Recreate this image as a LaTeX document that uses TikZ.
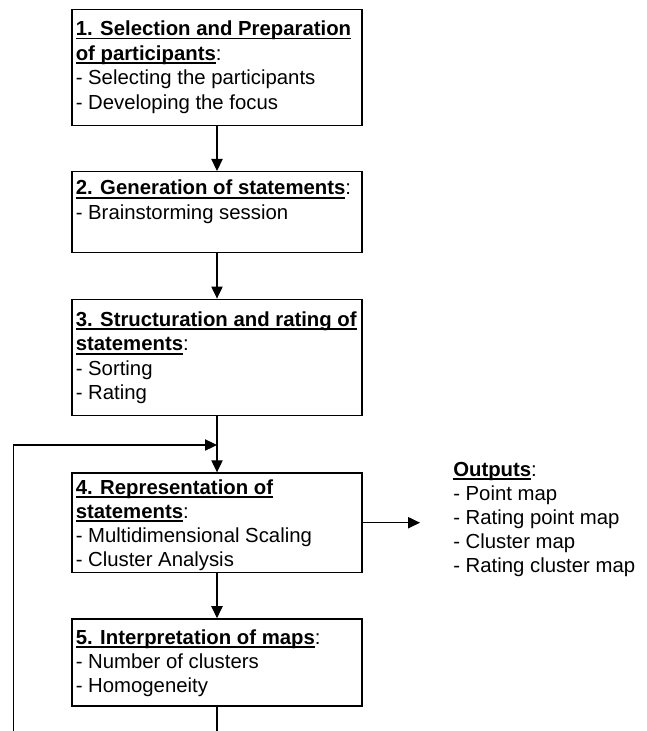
\documentclass[tikz,border=0pt]{standalone}
\usepackage{fontspec}
\setmainfont{Liberation Sans}
\usetikzlibrary{arrows.meta}
\newlength\ulw
\newcommand\hdline[1]{\leavevmode\settowidth\ulw{\bfseries #1}\rlap{\rule[-2.7pt]{\ulw}{1.3pt}}{\bfseries #1}}
\newcommand\boxtext[2][18.15pt]{\parbox[t]{225pt}{\fontsize{15.25pt}{#1}\selectfont #2}}
\begin{document}
\begin{tikzpicture}[x=0.75pt,y=-0.75pt,
  stage/.style={draw, line width=1.1pt, minimum width=217.5pt, inner sep=0pt},
  label text/.style={anchor=base west, inner sep=0pt},
  conn/.style={line width=0.8pt},
  arr/.style={conn, -{Triangle[length=9pt,width=8.5pt]}}]
\fill[white] (0,0) rectangle (646,731);
\useasboundingbox (0,0) rectangle (646,731);
% boxes
\node[stage, minimum height=87.15pt] (b1) at (217,67.4) {};
\node[stage, minimum height=60.75pt] (b2) at (217,212.2) {};
\node[stage, minimum height=87.3pt] (b3) at (217,357.5) {};
\node[stage, minimum height=74.5pt] (b4) at (217,522.7) {};
\node[stage, minimum height=65.25pt] (b5) at (217,662.4) {};
% texts
\node[label text] (t1) at (75.5,35.8) {\boxtext[18.45pt]{\hdline{1. Selection and Preparation}\\\hdline{of participants}:\\- Selecting the participants\\- Developing the focus}};
\node[label text] (t2) at (75.5,195) {\boxtext{\hdline{2. Generation of statements}:\\- Brainstorming session}};
\node[label text] (t3) at (75.5,326.5) {\boxtext[18.3pt]{\hdline{3. Structuration and rating of}\\\hdline{statements}:\\- Sorting\\- Rating}};
\node[label text] (t4) at (75.5,494.5) {\boxtext[17.9pt]{\hdline{4. Representation of}\\\hdline{statements}:\\- Multidimensional Scaling\\- Cluster Analysis}};
\node[label text] (t5) at (75.5,644.5) {\boxtext{\hdline{5. Interpretation of maps}:\\- Number of clusters\\- Homogeneity}};
\node[label text] (out) at (453,476) {\boxtext[18pt]{\hdline{Outputs}:\\- Point map\\- Rating point map\\- Cluster map\\- Rating cluster map}};
% coordinates
\coordinate (j) at (217,445);
\coordinate (fbtop) at (13.3,445);
\coordinate (fbbot) at (13.3,731);
\coordinate (bot) at (217,731);
\coordinate (outtip) at (420,522.7);
% connectors
\draw[arr] (b1.south) -- (b2.north);
\draw[arr] (b2.south) -- (b3.north);
\draw[arr] (b3.south) -- (b4.north);
\draw[arr] (b4.south) -- (b5.north);
\draw[conn] (b5.south) -- (bot);
\draw[arr] (fbbot) -- (fbtop) -- (j);
\draw[arr] (b4.east) -- (outtip);
\end{tikzpicture}
\end{document}
